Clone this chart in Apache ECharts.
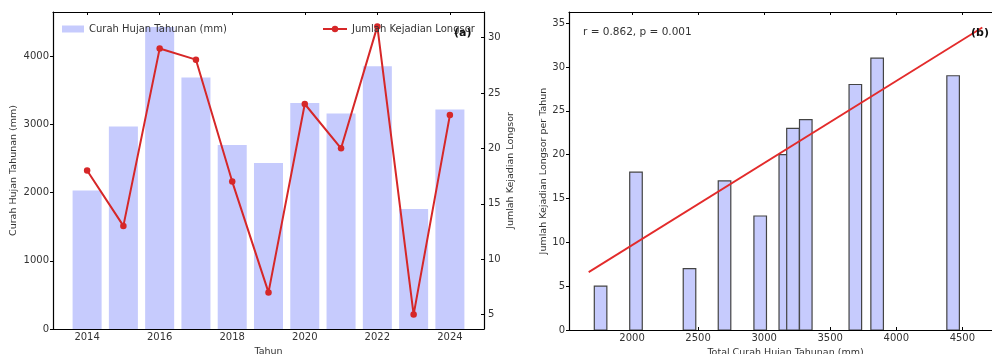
<!DOCTYPE html>
<html>
<head>
<meta charset="utf-8">
<script src="https://cdn.jsdelivr.net/npm/echarts@6/dist/echarts.min.js"></script>
<style>
html,body{margin:0;padding:0;background:#fff;}
#c{width:992px;height:354px;}
</style>
</head>
<body>
<div id="c"></div>
<script>
// ---- data ----
const years = [2014, 2015, 2016, 2017, 2018, 2019, 2020, 2021, 2022, 2023, 2024];
const rainfall = [2030, 2970, 4430, 3690, 2700, 2435, 3315, 3160, 3855, 1762, 3218];
const landslides = [18, 13, 29, 28, 17, 7, 24, 20, 31, 5, 23];
const trendX = [1672, 4651];
const trendY = [6.6, 34.5];
const yearTicks = [2014, 2016, 2018, 2020, 2022, 2024];
const rainTicks = [0, 1000, 2000, 3000, 4000];
const countTicksA = [5, 10, 15, 20, 25, 30];
const rainTicksB = [2000, 2500, 3000, 3500, 4000, 4500];
const countTicksB = [0, 5, 10, 15, 20, 25, 30, 35];
const annotation = 'r = 0.862, p = 0.001';

const FONT = 'DejaVu Sans';
const TXT = '#333';
const BAR = '#c6cbfd';
const LINE = '#d62728';

function barRenderer(width, stroke) {
  return function (params, api) {
    const x = api.value(0), y = api.value(1);
    const p0 = api.coord([x - width / 2, y]);
    const p1 = api.coord([x + width / 2, 0]);
    return {
      type: 'rect',
      shape: { x: p0[0], y: p0[1], width: p1[0] - p0[0], height: p1[1] - p0[1] },
      style: stroke ? { fill: BAR, stroke: '#444', lineWidth: 1.2 } : { fill: BAR }
    };
  };
}

const axisLine = { show: true, lineStyle: { color: '#000', width: 1.2 } };
const lbl = (vals, extra) => Object.assign({ customValues: vals, formatter: v => String(v), fontFamily: FONT, fontSize: 10, color: TXT, margin: 4 }, extra || {});
const tick = (vals, inside) => ({ show: true, customValues: vals, inside: !!inside, length: 3, lineStyle: { color: '#000', width: 1 } });
const nameStyle = { fontFamily: FONT, fontSize: 9.5, color: TXT };

const chart = echarts.init(document.getElementById('c'), null, { renderer: 'canvas' });
chart.setOption({
  animation: false,
  backgroundColor: '#fff',
  grid: [
    { left: 53, top: 12, width: 431, height: 317, containLabel: false, outerBoundsMode: 'none' },
    { left: 569, top: 12, width: 433, height: 318, containLabel: false, outerBoundsMode: 'none' }
  ],
  legend: [
    {
      left: 57, top: 19, itemWidth: 22, itemHeight: 7, itemGap: 8,
      textStyle: { fontFamily: FONT, fontSize: 10, color: TXT },
      data: [{ name: 'Curah Hujan Tahunan (mm)', icon: 'rect', itemStyle: { color: BAR } }]
    },
    {
      left: 317, top: 19, itemWidth: 24, itemHeight: 8, itemGap: 8,
      textStyle: { fontFamily: FONT, fontSize: 10, color: TXT },
      data: ['Jumlah Kejadian Longsor']
    }
  ],
  xAxis: [
    {
      type: 'value', gridIndex: 0, min: 2013.06, max: 2024.94, position: 'bottom',
      axisLine, splitLine: { show: false },
      axisTick: tick(yearTicks, true), axisLabel: lbl(yearTicks, { margin: 3 }),
      name: 'Tahun', nameLocation: 'middle', nameGap: 14.5, nameTextStyle: nameStyle
    },
    {
      type: 'value', gridIndex: 0, min: 2013.06, max: 2024.94, position: 'top',
      axisLine, splitLine: { show: false },
      axisTick: tick(yearTicks, true), axisLabel: { show: false }
    },
    {
      type: 'value', gridIndex: 1, min: 1523, max: 4800, position: 'bottom',
      axisLine, splitLine: { show: false },
      axisTick: tick(rainTicksB, true), axisLabel: lbl(rainTicksB, { margin: 3 }),
      name: 'Total Curah Hujan Tahunan (mm)', nameLocation: 'middle', nameGap: 13.5, nameTextStyle: nameStyle
    },
    {
      type: 'value', gridIndex: 1, min: 1523, max: 4800, position: 'top',
      axisLine, splitLine: { show: false },
      axisTick: tick(rainTicksB, true), axisLabel: { show: false }
    }
  ],
  yAxis: [
    {
      type: 'value', gridIndex: 0, min: 0, max: 4650, position: 'left',
      axisLine, splitLine: { show: false },
      axisTick: tick(rainTicks, false), axisLabel: lbl(rainTicks),
      name: 'Curah Hujan Tahunan (mm)', nameLocation: 'middle', nameGap: 34, nameTextStyle: nameStyle
    },
    {
      type: 'value', gridIndex: 0, min: 3.7, max: 32.3, position: 'right',
      axisLine, splitLine: { show: false },
      axisTick: tick(countTicksA, true), axisLabel: lbl(countTicksA),
      name: 'Jumlah Kejadian Longsor', nameLocation: 'middle', nameGap: 22, nameTextStyle: nameStyle
    },
    {
      type: 'value', gridIndex: 1, min: 0, max: 36.27, position: 'left',
      axisLine, splitLine: { show: false },
      axisTick: tick(countTicksB, false), axisLabel: lbl(countTicksB),
      name: 'Jumlah Kejadian Longsor per Tahun', nameLocation: 'middle', nameGap: 19, nameTextStyle: nameStyle
    }
  ],
  series: [
    {
      name: 'Curah Hujan Tahunan (mm)', type: 'custom', xAxisIndex: 0, yAxisIndex: 0,
      renderItem: barRenderer(0.8, false), clip: true, z: 1,
      itemStyle: { color: BAR },
      encode: { x: 0, y: 1 },
      data: years.map((y, i) => [y, rainfall[i]])
    },
    {
      name: 'Jumlah Kejadian Longsor', type: 'line', xAxisIndex: 0, yAxisIndex: 1,
      data: years.map((y, i) => [y, landslides[i]]),
      symbol: 'circle', symbolSize: 6.5, showSymbol: true,
      lineStyle: { color: LINE, width: 2 }, itemStyle: { color: LINE }, z: 3
    },
    {
      name: 'bars_b', type: 'custom', xAxisIndex: 2, yAxisIndex: 2,
      renderItem: barRenderer(95, true), clip: true, z: 1,
      encode: { x: 0, y: 1 },
      data: rainfall.map((r, i) => [r, landslides[i]])
    },
    {
      name: 'trend', type: 'line', xAxisIndex: 2, yAxisIndex: 2,
      data: trendX.map((x, i) => [x, trendY[i]]),
      showSymbol: false, lineStyle: { color: '#e32b2b', width: 1.8 }, z: 3
    }
  ],
  graphic: [
    { type: 'text', left: 454, top: 28, style: { text: '(a)', font: 'bold 11px "DejaVu Sans"', fill: '#111' }, z: 10 },
    { type: 'text', left: 971, top: 28, style: { text: '(b)', font: 'bold 11px "DejaVu Sans"', fill: '#111' }, z: 10 },
    { type: 'text', left: 583, top: 27, style: { text: annotation, font: '10.5px "DejaVu Sans"', fill: TXT }, z: 10 }
  ]
});
</script>
</body>
</html>
